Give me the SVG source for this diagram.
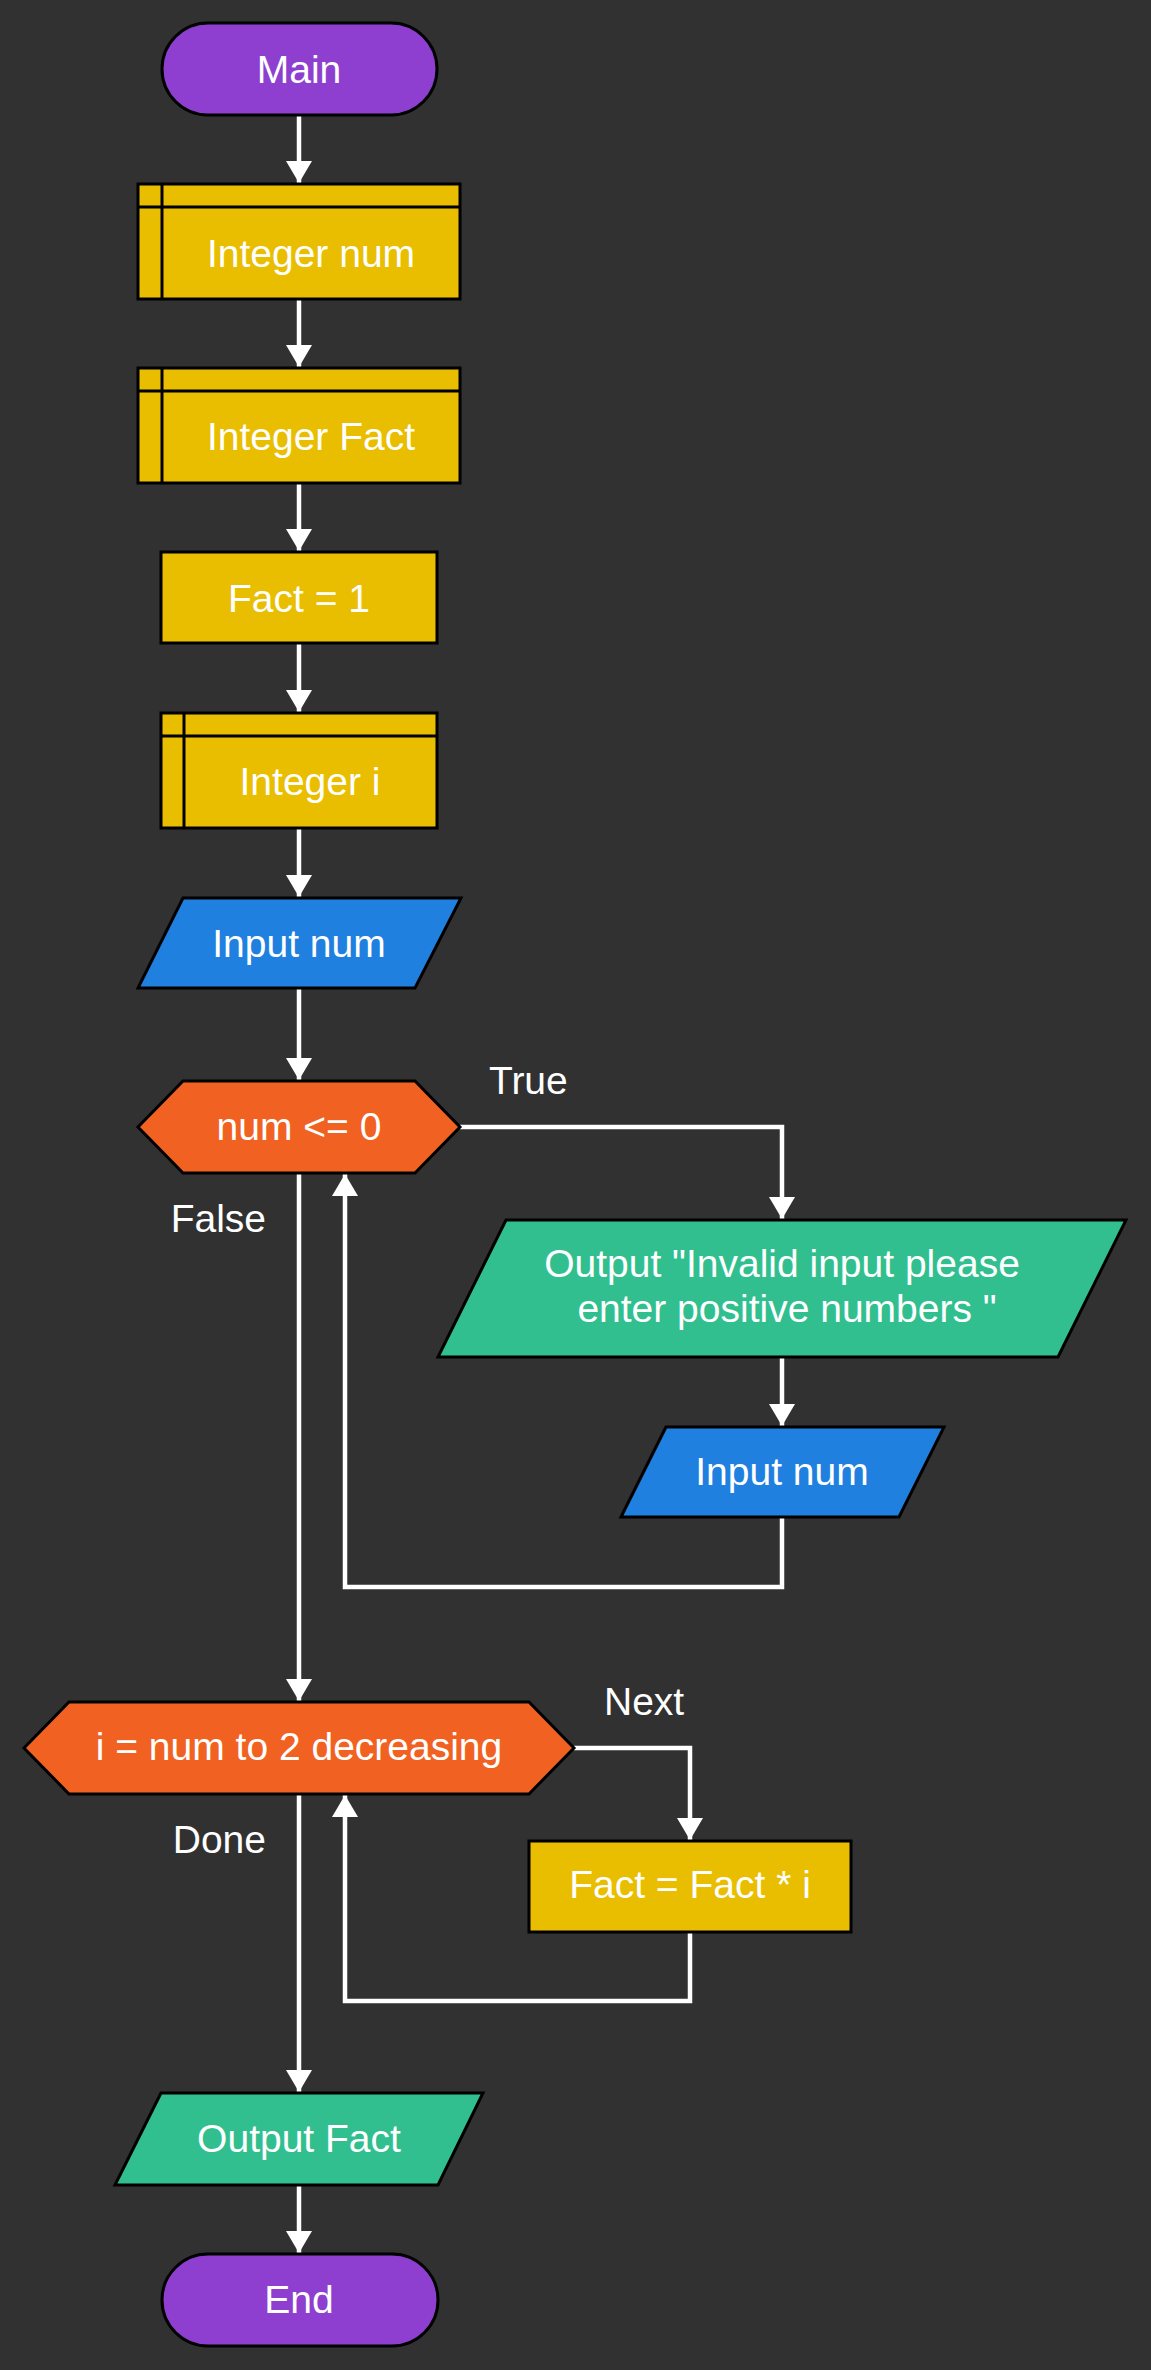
<svg xmlns="http://www.w3.org/2000/svg" width="1151" height="2370" viewBox="0 0 1151 2370">
<defs>
<style>
.t{font-family:"Liberation Sans",Arial,sans-serif;font-size:39px;fill:#ffffff;text-anchor:middle}
.l{font-family:"Liberation Sans",Arial,sans-serif;font-size:39px;fill:#ffffff}
.n{stroke:#000000;stroke-width:3}
.term{fill:#8e3fd0}
.dec{fill:#e9be00}
.proc{fill:#e9be00}
.in{fill:#2080e0}
.out{fill:#32bf90}
.cond{fill:#f16222}
.c{fill:none;stroke:#ffffff;stroke-width:4.5;marker-end:url(#ah)}
</style>
<marker id="ah" viewBox="0 0 22 26" refX="22" refY="13" markerWidth="22" markerHeight="26" markerUnits="userSpaceOnUse" orient="auto">
<path d="M0,0 L22,13 L0,26 Z" fill="#ffffff"/>
</marker>
</defs>
<rect x="0" y="0" width="1151" height="2370" fill="#313131"/>
<g id="connectors">
<path class="c" d="M299,115 V183"/>
<path class="c" d="M299,299 V367"/>
<path class="c" d="M299,483 V551"/>
<path class="c" d="M299,643 V712"/>
<path class="c" d="M299,828 V897"/>
<path class="c" d="M299,988 V1080"/>
<path class="c" d="M460,1127 H782 V1219"/>
<path class="c" d="M782,1357 V1426"/>
<path class="c" d="M782,1517 V1587 H345 V1174"/>
<path class="c" d="M299,1173 V1701"/>
<path class="c" d="M574,1748 H690 V1840"/>
<path class="c" d="M690,1932 V2001 H345 V1795"/>
<path class="c" d="M299,1794 V2092"/>
<path class="c" d="M299,2185 V2253"/>
<text class="l" x="489" y="1094">True</text>
<text class="l" x="266" y="1232" text-anchor="end">False</text>
<text class="l" x="604" y="1715">Next</text>
<text class="l" x="266" y="1853" text-anchor="end">Done</text>
</g>
<g id="main">
<rect class="n term" x="162" y="23" width="275" height="92" rx="46" ry="46"/>
<text class="t" x="299" y="83">Main</text>
</g>
<g id="decl-num">
<rect class="n dec" x="138" y="184" width="322" height="115"/>
<line class="n" x1="138" y1="207" x2="460" y2="207"/>
<line class="n" x1="162" y1="184" x2="162" y2="299"/>
<text class="t" x="311" y="267">Integer num</text>
</g>
<g id="decl-fact">
<rect class="n dec" x="138" y="368" width="322" height="115"/>
<line class="n" x1="138" y1="391" x2="460" y2="391"/>
<line class="n" x1="162" y1="368" x2="162" y2="483"/>
<text class="t" x="311" y="450">Integer Fact</text>
</g>
<g id="assign-fact">
<rect class="n proc" x="161" y="552" width="276" height="91"/>
<text class="t" x="299" y="612">Fact = 1</text>
</g>
<g id="decl-i">
<rect class="n dec" x="161" y="713" width="276" height="115"/>
<line class="n" x1="161" y1="736" x2="437" y2="736"/>
<line class="n" x1="184" y1="713" x2="184" y2="828"/>
<text class="t" x="310" y="795">Integer i</text>
</g>
<g id="input-num">
<polygon class="n in" points="183,898 461,898 415,988 138,988"/>
<text class="t" x="299" y="957">Input num</text>
</g>
<g id="cond-num">
<polygon class="n cond" points="138,1127 183,1081 415,1081 460,1127 415,1173 183,1173"/>
<text class="t" x="299" y="1140">num &lt;= 0</text>
</g>
<g id="output-invalid">
<polygon class="n out" points="506,1220 1126,1220 1058,1357 438,1357"/>
<text class="t" x="782" y="1277">Output "Invalid input please</text>
<text class="t" x="787" y="1322">enter positive numbers "</text>
</g>
<g id="input-num-2">
<polygon class="n in" points="666,1427 944,1427 899,1517 621,1517"/>
<text class="t" x="782" y="1485">Input num</text>
</g>
<g id="loop-i">
<polygon class="n cond" points="24,1748 69,1702 529,1702 574,1748 529,1794 69,1794"/>
<text class="t" x="299" y="1760">i = num to 2 decreasing</text>
</g>
<g id="mult">
<rect class="n proc" x="529" y="1841" width="322" height="91"/>
<text class="t" x="690" y="1898">Fact = Fact * i</text>
</g>
<g id="output-fact">
<polygon class="n out" points="161,2093 483,2093 438,2185 115,2185"/>
<text class="t" x="299" y="2152">Output Fact</text>
</g>
<g id="end">
<rect class="n term" x="162" y="2254" width="276" height="92" rx="46" ry="46"/>
<text class="t" x="299" y="2313">End</text>
</g>
</svg>
